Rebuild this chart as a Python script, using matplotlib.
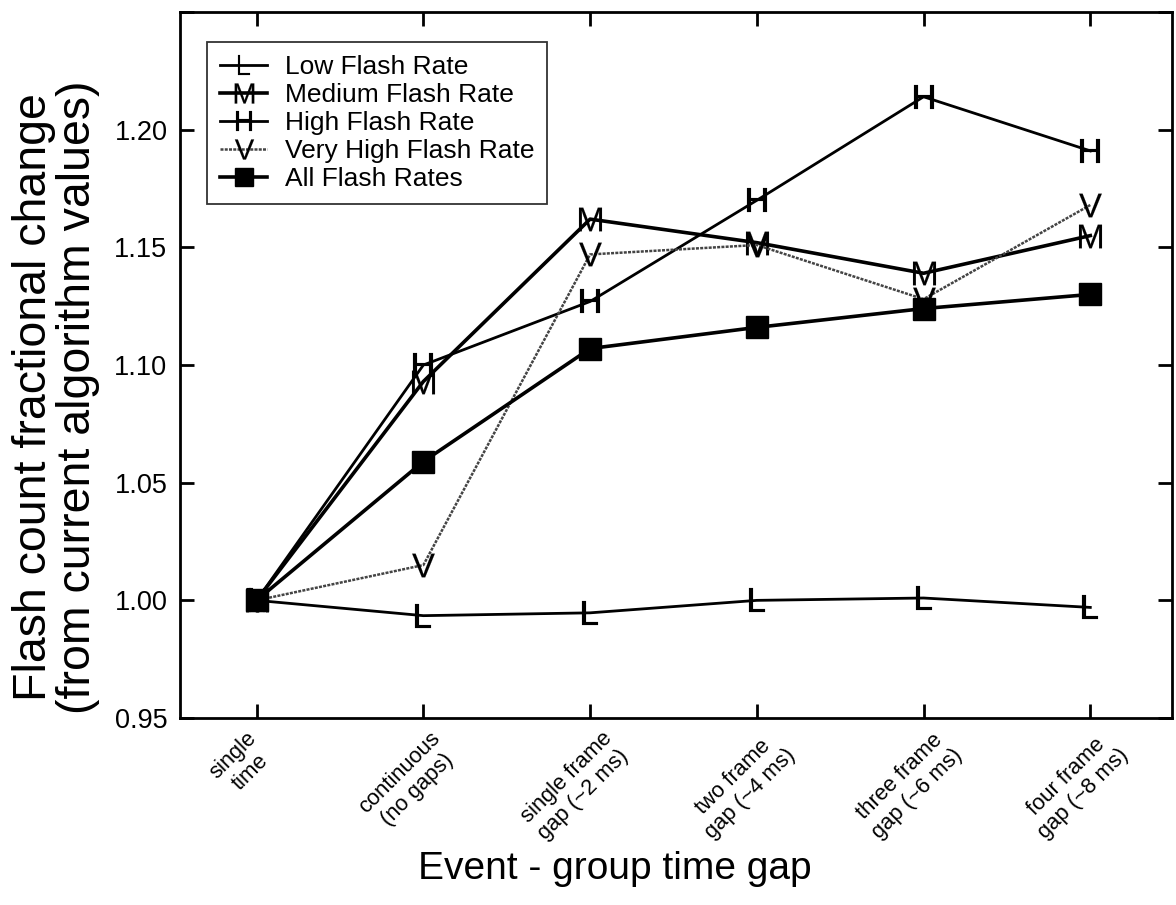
import matplotlib
matplotlib.use("Agg")
import matplotlib.pyplot as plt
from matplotlib.transforms import ScaledTranslation

plt.rcParams['font.family'] = ['Liberation Sans', 'DejaVu Sans']
plt.rcParams['mathtext.fontset'] = 'custom'
plt.rcParams['mathtext.sf'] = 'Liberation Sans'
plt.rcParams['mathtext.rm'] = 'Liberation Sans'

categories = ["single\ntime", "continuous\n(no gaps)", "single frame\ngap (~2 ms)",
              "two frame\ngap (~4 ms)", "three frame\ngap (~6 ms)", "four frame\ngap (~8 ms)"]
low = [1.000, 0.9935, 0.9947, 1.000, 1.001, 0.997]
medium = [1.000, 1.093, 1.162, 1.152, 1.139, 1.155]
high = [1.000, 1.100, 1.127, 1.170, 1.214, 1.191]
very_high = [1.000, 1.015, 1.147, 1.151, 1.128, 1.168]
all_rates = [1.000, 1.059, 1.107, 1.116, 1.124, 1.130]

fig = plt.figure(figsize=(11.76, 9.05), dpi=100)
ax = fig.add_axes([0.153, 0.2066, 0.8436, 0.7801])
x = list(range(len(categories)))

mk = dict(ms=17, mec='black', mfc='black', mew=0.1)
ax.plot(x, low, color='black', lw=2.0, marker='$\\mathsf{L}$', label='Low Flash Rate', **mk)
ax.plot(x, medium, color='black', lw=2.6, marker='$\\mathsf{M}$', label='Medium Flash Rate', **mk)
ax.plot(x, high, color='black', lw=2.0, marker='$\\mathsf{H}$', label='High Flash Rate', **mk)
ax.plot(x, very_high, color='#444444', lw=1.8, ls=(0, (1.2, 0.5)), marker='$\\mathsf{V}$',
        label='Very High Flash Rate', **mk)
ax.plot(x, all_rates, color='black', lw=2.6, marker='s', ms=16, mfc='black', mec='black',
        label='All Flash Rates')

ax.set_xlim(-0.46, 5.49)
ax.set_ylim(0.95, 1.25)
ax.set_yticks([0.95, 1.00, 1.05, 1.10, 1.15, 1.20, 1.25])
ax.set_yticklabels(['0.95', '1.00', '1.05', '1.10', '1.15', '1.20', ''])
ax.set_xticks(x)
ax.tick_params(axis='y', labelsize=19.5, direction='in', length=10, width=2, right=True, pad=9)
ax.tick_params(axis='x', direction='in', length=10, width=2, top=True, pad=7)
ax.set_xticklabels(categories, rotation=45, ha='center', va='top',
                   fontsize=15.8, multialignment='center')
shift = ScaledTranslation(-15 / 100, 0, fig.dpi_scale_trans)
for lab in ax.get_xticklabels():
    lab.set_transform(lab.get_transform() + shift)
for s in ax.spines.values():
    s.set_linewidth(2)

ax.set_ylabel('Flash count fractional change\n(from current algorithm values)', fontsize=33.5,
              linespacing=1.0)
ax.yaxis.set_label_coords(-0.081, 0.455)
ax.set_xlabel('Event - group time gap', fontsize=28)
ax.xaxis.set_label_coords(0.4385, -0.188)

leg = ax.legend(loc='upper left', bbox_to_anchor=(0.027, 0.9575), borderaxespad=0,
                fontsize=19, frameon=True, fancybox=False, edgecolor='black',
                handlelength=1.8, labelspacing=0.15, handletextpad=0.65, borderpad=0.5,
                markerscale=0.85)
leg.get_frame().set_linewidth(1.3)

fig.savefig('out.png', dpi=100)
